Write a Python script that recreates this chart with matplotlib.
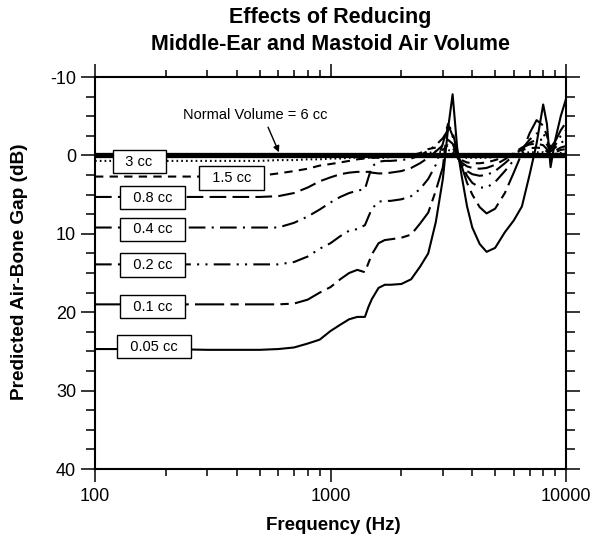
import matplotlib
matplotlib.use("Agg")
import matplotlib.pyplot as plt
from matplotlib.ticker import FixedLocator, MultipleLocator, NullFormatter

plt.rcParams["font.family"] = ["Liberation Sans", "DejaVu Sans"]
plt.rcParams["axes.unicode_minus"] = False

freq = [100, 150, 200, 300, 400, 500, 600, 700, 800, 900,
        1000, 1100, 1200, 1300, 1400, 1450, 1500, 1600, 1700, 1800,
        2000, 2200, 2400, 2600, 2800, 3000, 3150, 3300, 3450, 3600,
        3800, 4000, 4300, 4600, 5000, 5500, 6000, 6500, 7000, 7500,
        8000, 8300, 8600, 9000, 9500, 10000]

gap_6cc = [0.0] * len(freq)
gap_3cc = [0.7, 0.7, 0.7, 0.7, 0.7, 0.7, 0.6, 0.6, 0.5, 0.5,
           0.4, 0.4, 0.3, 0.3, 0.3, 0.3, 0.3, 0.3, 0.3, 0.2,
           0.2, 0.1, 0.0, -0.3, -0.5, -0.4, -0.7, -0.5, 0.0, 0.2,
           0.3, 0.3, 0.3, 0.3, 0.2, 0.0, -0.2, -0.3, -0.4, -0.4,
           -0.4, -0.2, 0.0, -0.2, -0.3, -0.4]
gap_1_5cc = [2.7, 2.7, 2.7, 2.7, 2.7, 2.6, 2.3, 2.0, 1.7, 1.3,
             1.1, 0.9, 0.7, 0.5, 0.4, 0.3, 0.3, 0.3, 0.2, 0.2,
             0.1, 0.0, -0.3, -0.8, -1.0, -0.7, -1.3, -1.0, 0.0, 0.6,
             0.9, 1.0, 1.0, 0.9, 0.6, 0.2, -0.3, -0.7, -0.9, -1.0,
             -0.9, -0.5, 0.0, -0.4, -0.7, -0.8]
gap_0_8cc = [5.3, 5.3, 5.3, 5.3, 5.3, 5.3, 5.2, 4.8, 4.1, 3.3,
             2.8, 2.4, 2.2, 2.1, 2.1, 2.1, 2.2, 2.3, 2.3, 2.2,
             2.0, 1.6, 1.0, 0.3, -0.5, -1.3, -2.0, -1.5, 0.0, 0.9,
             1.4, 1.6, 1.7, 1.6, 1.2, 0.5, -0.3, -1.0, -1.4, -1.5,
             -1.3, -0.8, -0.1, -0.6, -1.0, -1.2]
gap_0_4cc = [9.2, 9.2, 9.2, 9.2, 9.2, 9.2, 9.2, 8.6, 7.8, 6.9,
             6.0, 5.3, 4.8, 4.5, 4.3, 2.8, 1.4, 0.8, 0.7, 0.7,
             0.6, 0.4, 0.0, -0.6, -1.3, -2.2, -3.2, -2.5, 0.2, 1.2,
             2.0, 2.4, 2.6, 2.5, 2.0, 1.0, 0.0, -0.9, -1.6, -2.0,
             -2.0, -1.4, -0.5, -1.0, -1.6, -2.0]
gap_0_2cc = [13.9, 13.9, 13.9, 13.9, 13.9, 13.9, 13.9, 13.6, 12.9, 11.9,
             11.2, 10.3, 9.6, 9.4, 8.9, 7.8, 6.8, 5.9, 5.8, 5.8,
             5.6, 5.2, 4.3, 3.0, 1.2, -1.5, -4.0, -3.0, -0.5, 1.0,
             2.6, 3.5, 4.1, 4.1, 3.4, 2.0, 0.6, -0.8, -2.0, -2.8,
             -2.8, -2.0, -0.8, -1.3, -2.5, -3.2]
gap_0_1cc = [19.0, 19.0, 19.0, 19.0, 19.0, 19.0, 19.0, 18.9, 18.4, 17.5,
             16.8, 15.8, 15.0, 14.6, 14.9, 13.7, 12.6, 11.2, 10.8, 10.7,
             10.5, 10.1, 8.7, 7.3, 4.5, 1.5, -4.0, -2.5, 0.0, 1.3,
             3.5, 5.0, 6.6, 7.4, 6.8, 4.8, 2.2, -0.3, -2.8, -4.5,
             -3.8, -2.5, -1.0, -1.8, -3.2, -4.2]
gap_0_05cc = [24.7, 24.7, 24.7, 24.8, 24.8, 24.8, 24.7, 24.5, 24.0, 23.5,
              22.4, 21.6, 20.9, 20.6, 20.6, 19.3, 18.3, 16.9, 16.5, 16.5,
              16.4, 15.8, 14.2, 12.5, 8.5, 3.0, -3.2, -7.8, -1.0, 2.5,
              6.5, 9.2, 11.3, 12.3, 11.8, 9.8, 8.3, 6.5, 2.5, -1.5,
              -6.5, -4.0, 1.5, -2.0, -5.0, -7.2]

volumes = ["3 cc", "1.5 cc", "0.8 cc", "0.4 cc", "0.2 cc", "0.1 cc", "0.05 cc"]
curves = [gap_3cc, gap_1_5cc, gap_0_8cc, gap_0_4cc, gap_0_2cc, gap_0_1cc, gap_0_05cc]
styles = [(0, (0.8, 1.5)), (0, (4, 3)), (0, (8, 3)), (0, (8, 3, 1, 3)),
          (0, (8, 3, 1, 3, 1, 3)), (0, (14, 3, 4, 3)), "-"]
label_pos = [(154, 0.8), (381, 2.9), (176, 5.4), (176, 9.45),
             (176, 14.0), (176, 19.3), (178, 24.4)]

fig = plt.figure(figsize=(5.94, 5.38), dpi=100)
ax = fig.add_axes([95 / 594, 1 - 469 / 538, 471 / 594, 392 / 538])

for vals, ls in zip(curves, styles):
    ax.plot(freq, vals, color="black", lw=1.5, linestyle=ls, zorder=2)
ax.plot(freq, gap_6cc, color="black", lw=3.8, zorder=3,
        solid_capstyle="butt")

for name, (fx, gy) in zip(volumes, label_pos):
    ax.text(fx, gy, "  " + name + "  ", ha="center", va="center", fontsize=10.5,
            zorder=5, bbox=dict(boxstyle="square,pad=0.32", fc="white",
                                ec="black", lw=1.0))

# label for the normal volume line, arrow drawn separately
ax.text(480, -5.15, "Normal Volume = 6 cc", ha="center", va="center",
        fontsize=10.5, zorder=5)
ax.annotate("", xy=(604, -0.4), xytext=(543, -3.6),
            arrowprops=dict(arrowstyle="-|>", color="black", lw=1.0,
                            mutation_scale=9, shrinkA=0, shrinkB=0))

ax.set_xscale("log")
ax.set_xlim(100, 10000)
ax.set_ylim(40, -10)
ax.xaxis.set_major_locator(FixedLocator([100, 1000, 10000]))
ax.set_xticklabels(["100", "1000", "10000"])
ax.xaxis.set_minor_formatter(NullFormatter())
ax.yaxis.set_major_locator(MultipleLocator(10))
ax.yaxis.set_minor_locator(MultipleLocator(2.5))

ax.tick_params(axis="both", which="both", direction="out", top=True,
               right=True, width=1.1, labelsize=13)
ax.tick_params(axis="x", which="major", length=9.5, pad=4)
ax.tick_params(axis="x", which="minor", length=5)
ax.tick_params(axis="y", which="major", length=10, pad=3.6)
ax.tick_params(axis="y", which="minor", length=6.5)
for sp in ax.spines.values():
    sp.set_linewidth(1.5)

fig.text(330.5 / 594, 1 - 18 / 538, "Effects of Reducing", ha="center",
         va="center", fontsize=15.5, fontweight="bold")
fig.text(330.5 / 594, 1 - 44 / 538, "Middle-Ear and Mastoid Air Volume",
         ha="center", va="center", fontsize=15.5, fontweight="bold")
fig.text(333 / 594, 1 - 525 / 538, "Frequency (Hz)", ha="center",
         va="center", fontsize=13.5, fontweight="bold")
fig.text(20 / 594, 1 - 272 / 538, "Predicted Air-Bone Gap (dB)", ha="center",
         va="center", rotation=90, fontsize=13.7, fontweight="bold")

fig.savefig("out.png", dpi=100)
